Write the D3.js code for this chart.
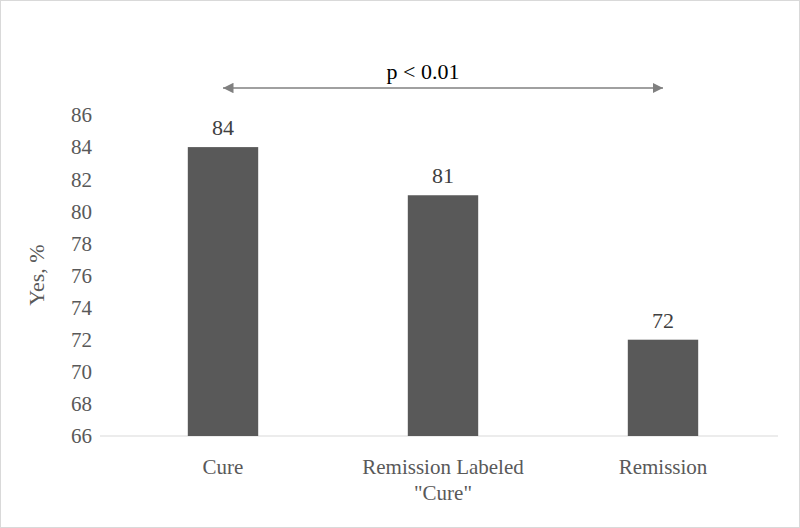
<!DOCTYPE html>
<html><head><meta charset="utf-8">
<script src="https://cdn.jsdelivr.net/npm/d3@7/dist/d3.min.js"></script>
<style>body{margin:0;background:#fff}svg, svg text{font-family:'Liberation Serif','DejaVu Serif',serif !important}</style>
</head><body><svg id="c" width="800" height="528" font-family="Liberation Serif, DejaVu Serif, serif"></svg>
<script>
const categories = [["Cure"], ["Remission Labeled", "\"Cure\""], ["Remission"]];
const values = [84, 81, 72];
const yTicks = [66,68,70,72,74,76,78,80,82,84,86];
const pLabel = "p < 0.01";

const svg = d3.select("#c");
svg.append("rect").attr("x",0.5).attr("y",0.5).attr("width",799).attr("height",527).attr("fill","#fff").attr("stroke","#d9d9d9");
const y = d3.scaleLinear().domain([66,86]).range([436,115]);
const x = d3.scaleBand().domain(d3.range(categories.length)).range([113,773]).paddingInner(0.68).paddingOuter(0.34);
const col = "#595959";
svg.append("line").attr("x1",100).attr("x2",778).attr("y1",y(66)).attr("y2",y(66)).attr("stroke","#d9d9d9");
svg.selectAll(".yt").data(yTicks).join("text").attr("x",92).attr("y",d=>y(d)).attr("dy","0.35em")
  .attr("text-anchor","end").attr("font-size",21).attr("fill",col).text(d=>d);
svg.selectAll(".bar").data(values).join("rect").attr("x",(d,i)=>x(i)).attr("width",x.bandwidth())
  .attr("y",d=>y(d)).attr("height",d=>y(66)-y(d)).attr("fill",col);
svg.selectAll(".vl").data(values).join("text").attr("x",(d,i)=>x(i)+x.bandwidth()/2).attr("y",d=>y(d)-12)
  .attr("text-anchor","middle").attr("font-size",22).attr("fill","#404040").text(d=>d);
categories.forEach((lines,i)=>{
  lines.forEach((t,j)=>svg.append("text").attr("x",x(i)+x.bandwidth()/2).attr("y",474+j*26)
    .attr("text-anchor","middle").attr("font-size",21).attr("fill",col).text(t));
});
svg.append("text").attr("transform","translate(44,275) rotate(-90)").attr("text-anchor","middle")
  .attr("font-size",22).attr("fill",col).text("Yes, %");
const defs = svg.append("defs");
defs.append("marker").attr("id","ah").attr("viewBox","0 0 10 10").attr("refX",10).attr("refY",5)
  .attr("markerWidth",7).attr("markerHeight",7).attr("orient","auto-start-reverse")
  .append("path").attr("d","M0,0L10,5L0,10z").attr("fill","#808080");
const ax1 = x(0)+x.bandwidth()/2, ax2 = x(2)+x.bandwidth()/2;
svg.append("line").attr("x1",ax1).attr("x2",ax2).attr("y1",88).attr("y2",88).attr("stroke","#808080")
  .attr("stroke-width",1.5).attr("marker-start","url(#ah)").attr("marker-end","url(#ah)");
svg.append("text").attr("x",423).attr("y",79).attr("text-anchor","middle").attr("font-size",22).attr("fill","#000").text(pLabel);
</script></body></html>
